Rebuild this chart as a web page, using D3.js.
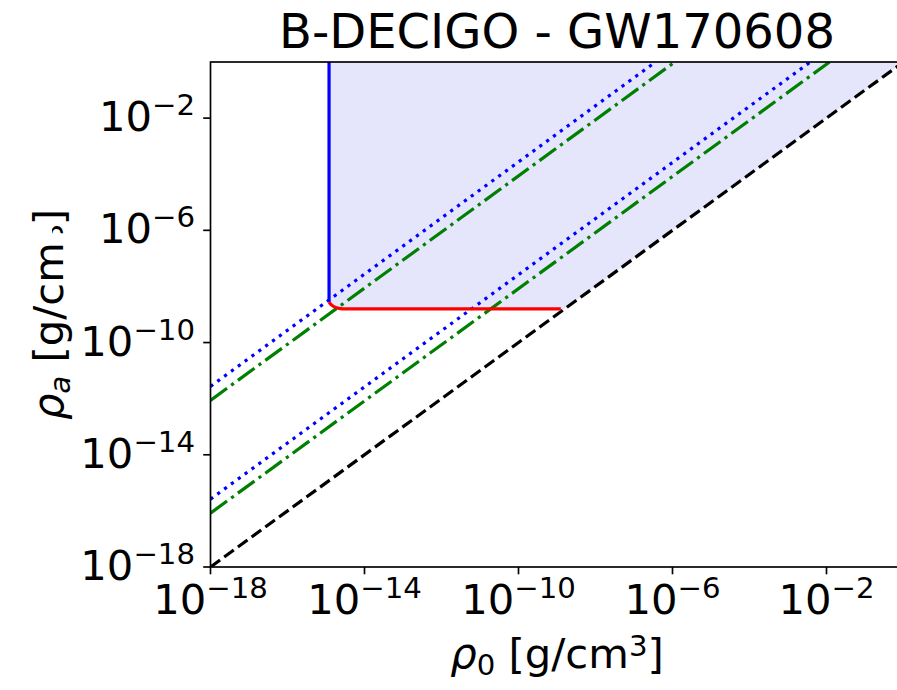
<!DOCTYPE html>
<html><head><meta charset="utf-8">
<script src="https://cdn.jsdelivr.net/npm/d3@7"></script>
<style>body{margin:0;background:#fff} svg{display:block} text{font-family:"DejaVu Sans",sans-serif;fill:#000}</style>
</head><body><svg id="c" width="897" height="690"></svg>
<script>
// ---- data ----
const titleText = "B-DECIGO - GW170608";
const xTickValues = [1e-18, 1e-14, 1e-10, 1e-6, 1e-2];
const yTickValues = [1e-18, 1e-14, 1e-10, 1e-6, 1e-2];
const xDomain = [1e-18, 1];
const yDomain = [1e-18, 1];
// each line: [[rho0, rhoA], [rho0, rhoA]]
const blackDashed     = [[1e-18, 1e-18], [1, 1]];
const blueDottedUpper = [[1e-18, 2.75e-12], [3.63e-7, 1]];
const greenDashUpper  = [[1e-18, 8.71e-13], [1.148e-6, 1]];
const blueDottedLower = [[1e-18, 2.63e-16], [3.8e-3, 1]];
const greenDashLower  = [[1e-18, 8.32e-17], [1.2e-2, 1]];
const blueVertical    = [[1.2e-15, 2.75e-9], [1.2e-15, 1]];
const redCurve = [[1.2e-15, 2.75e-9], [1.38e-15, 2.19e-9], [1.66e-15, 1.86e-9],
                  [2.19e-15, 1.66e-9], [3.16e-15, 1.58e-9], [1.26e-9, 1.58e-9]];
const regionRight = [[1.58e-9, 1.58e-9], [1, 1]];

// ---- layout ----
const L = 210.5, R = 903.5, T = 62, B = 567;
const svg = d3.select("#c");
const x = d3.scaleLog().domain(xDomain).range([L, R]);
const y = d3.scaleLog().domain(yDomain).range([B, T]);
const LW = 3.2;

svg.append("defs").append("clipPath").attr("id", "plot")
  .append("rect").attr("x", L).attr("y", T).attr("width", R - L).attr("height", B - T);

const g = svg.append("g").attr("clip-path", "url(#plot)");
const line = d3.line().x(d => x(d[0])).y(d => y(d[1]));

// shaded region
const region = [[blueVertical[1][0], blueVertical[1][1]]].concat(redCurve, regionRight);
g.append("path").attr("d", line(region) + "Z").attr("fill", "#e5e5fc").attr("stroke", "none");

function drawLine(data, color, dash, curve) {
  const ln = d3.line().x(d => x(d[0])).y(d => y(d[1]));
  if (curve) ln.curve(curve);
  g.append("path").attr("d", ln(data)).attr("fill", "none")
    .attr("stroke", color).attr("stroke-width", LW)
    .attr("stroke-dasharray", dash || null);
}
drawLine(blackDashed, "#000", [3.7*LW, 1.6*LW].join(","));
drawLine(blueDottedUpper, "#0000ff", [1*LW, 1.65*LW].join(","));
drawLine(greenDashUpper, "#008000", [6.4*LW, 1.6*LW, 1*LW, 1.6*LW].join(","));
drawLine(blueDottedLower, "#0000ff", [1*LW, 1.65*LW].join(","));
drawLine(greenDashLower, "#008000", [6.4*LW, 1.6*LW, 1*LW, 1.6*LW].join(","));
drawLine(blueVertical, "#0000ff", null);
drawLine(redCurve, "#ff0000", null, d3.curveMonotoneX);

// spines
svg.append("rect").attr("x", L).attr("y", T).attr("width", R - L).attr("height", B - T)
  .attr("fill", "none").attr("stroke", "#000").attr("stroke-width", 1.67);

const FS = 41.7, SFS = 29.2;
function expLabel(sel, v) {
  const e = Math.round(Math.log10(v));
  sel.append("tspan").attr("font-size", FS).text("10");
  sel.append("tspan").attr("font-size", SFS).attr("dy", -16).text("\u2212" + Math.abs(e));
}
// x ticks
xTickValues.forEach(v => {
  svg.append("line").attr("x1", x(v)).attr("x2", x(v)).attr("y1", B).attr("y2", B + 7.3)
    .attr("stroke", "#000").attr("stroke-width", 1.67);
  const t = svg.append("text").attr("x", x(v)).attr("y", 614).attr("text-anchor", "middle");
  expLabel(t, v);
});
// y ticks
yTickValues.forEach(v => {
  svg.append("line").attr("x1", L - 7.3).attr("x2", L).attr("y1", y(v)).attr("y2", y(v))
    .attr("stroke", "#000").attr("stroke-width", 1.67);
  const t = svg.append("text").attr("x", 195).attr("y", y(v) + 13).attr("text-anchor", "end");
  expLabel(t, v);
});

// title
svg.append("text").attr("x", (L + R) / 2).attr("y", 48).attr("text-anchor", "middle")
  .attr("font-size", 48).text(titleText);

// x label
const xl = svg.append("text").attr("x", (L + R) / 2).attr("y", 668).attr("text-anchor", "middle").attr("font-size", FS);
xl.append("tspan").attr("font-style", "italic").text("\u03C1");
xl.append("tspan").attr("font-size", SFS).attr("dy", 7).text("0");
xl.append("tspan").attr("dy", -7).text(" [g/cm");
xl.append("tspan").attr("font-size", SFS).attr("dy", -12).text("3");
xl.append("tspan").attr("dy", 12).text("]");

// y label
const yg = svg.append("g").attr("transform", `translate(63,${(T + B) / 2}) rotate(-90)`);
const yl = yg.append("text").attr("x", 0).attr("y", 0).attr("text-anchor", "middle").attr("font-size", FS);
yl.append("tspan").attr("font-style", "italic").text("\u03C1");
yl.append("tspan").attr("font-style", "italic").attr("font-size", SFS).attr("dy", 7).text("a");
yl.append("tspan").attr("dy", -7).text(" [g/cm");
yl.append("tspan").attr("dx", 17).text("]");
// partially hidden superscript as in the original rendering
const txt = yl.node();
const n = txt.getNumberOfChars();
const p = txt.getStartPositionOfChar(n - 1);
const x3 = p.x - 17;
yg.append("defs").append("clipPath").attr("id", "c3").append("rect")
  .attr("x", x3 + 9).attr("y", -11).attr("width", 9).attr("height", 12);
yg.append("text").attr("x", x3).attr("y", 0).attr("font-size", SFS)
  .attr("clip-path", "url(#c3)").text("3");
</script></body></html>
